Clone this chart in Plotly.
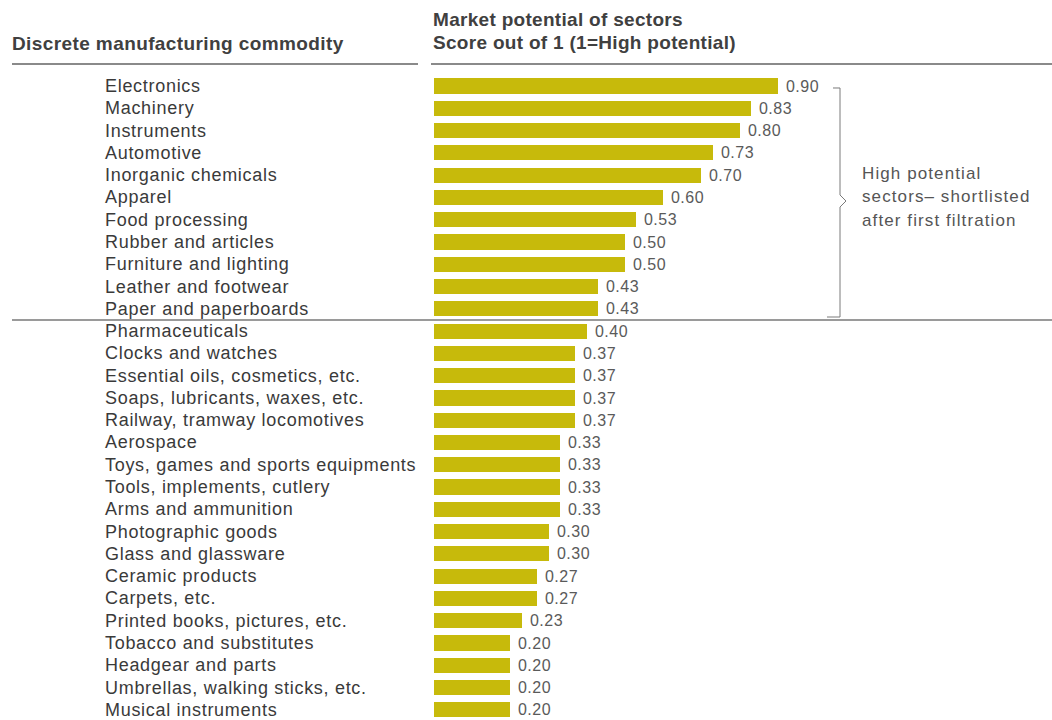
import plotly.graph_objects as go

# Sector scores (market potential, 1 = high)
sectors = [
    "Electronics", "Machinery", "Instruments", "Automotive", "Inorganic chemicals",
    "Apparel", "Food processing", "Rubber and articles", "Furniture and lighting",
    "Leather and footwear", "Paper and paperboards", "Pharmaceuticals",
    "Clocks and watches", "Essential oils, cosmetics, etc.", "Soaps, lubricants, waxes, etc.",
    "Railway, tramway locomotives", "Aerospace", "Toys, games and sports equipments",
    "Tools, implements, cutlery", "Arms and ammunition", "Photographic goods",
    "Glass and glassware", "Ceramic products", "Carpets, etc.",
    "Printed books, pictures, etc.", "Tobacco and substitutes", "Headgear and parts",
    "Umbrellas, walking sticks, etc.", "Musical instruments",
]
scores = [
    0.90, 0.83, 0.80, 0.73, 0.70, 0.60, 0.53, 0.50, 0.50, 0.43, 0.43, 0.40,
    0.37, 0.37, 0.37, 0.37, 0.33, 0.33, 0.33, 0.33, 0.30, 0.30, 0.27, 0.27,
    0.23, 0.20, 0.20, 0.20, 0.20,
]
n_shortlisted = 11

col_header = "Discrete manufacturing commodity"
val_header = ["Market potential of sectors", "Score out of 1 (1=High potential)"]
note_lines = ["High potential", "sectors\u2013 shortlisted", "after first filtration"]

W, H = 1052, 720
FONT = "Liberation Sans, Arial, sans-serif"
BAR = "#c7ba0b"


def px(x):
    return x / W


def py(y):
    return 1 - y / H


def spaced(s, ls=0.6):
    return f'<span style="letter-spacing:{ls}px">{s}</span>'


row0, row_h = 86, 22.28
x0, unit = 434, 382.0

fig = go.Figure(go.Bar(
    y=sectors,
    x=scores,
    orientation="h",
    marker=dict(color=BAR, line=dict(width=0)),
    width=0.68,
    text=[spaced(f" {v:.2f}", 0.5) for v in scores],
    textposition="outside",
    constraintext="none",
    textfont=dict(family=FONT, size=16, color="#5a5a5a"),
    cliponaxis=False,
    hoverinfo="skip",
))

annotations = []
for i, name in enumerate(sectors):
    annotations.append(dict(
        x=px(103), y=name, xref="paper", yref="y", text=spaced(name, 0.7),
        showarrow=False, xanchor="left", yanchor="middle",
        font=dict(family=FONT, size=18, color="#3a3a3a"),
    ))

annotations.append(dict(
    x=px(10), y=py(43), xref="paper", yref="paper", text=spaced(f"<b>{col_header}</b>", 0.4),
    showarrow=False, xanchor="left", yanchor="middle",
    font=dict(family=FONT, size=19, color="#404040"),
))
for k, line in enumerate(val_header):
    annotations.append(dict(
        x=px(431), y=py(19 + 23 * k), xref="paper", yref="paper",
        text=spaced(f"<b>{line}</b>", 0.3),
        showarrow=False, xanchor="left", yanchor="middle",
        font=dict(family=FONT, size=19, color="#404040"),
    ))
for k, line in enumerate(note_lines):
    annotations.append(dict(
        x=px(860), y=py(173 + 23.5 * k), xref="paper", yref="paper", text=spaced(line, 1.1),
        showarrow=False, xanchor="left", yanchor="middle",
        font=dict(family=FONT, size=17, color="#555555"),
    ))

sep_y = row0 + row_h * (n_shortlisted - 0.5)
shapes = [
    dict(type="line", xref="paper", yref="paper", x0=px(12), x1=px(418), y0=py(64), y1=py(64),
         line=dict(color="#8a8a8a", width=2)),
    dict(type="line", xref="paper", yref="paper", x0=px(431), x1=1, y0=py(64), y1=py(64),
         line=dict(color="#8a8a8a", width=2)),
    dict(type="line", xref="paper", yref="paper", x0=px(12), x1=1, y0=py(sep_y), y1=py(sep_y),
         line=dict(color="#9a9a9a", width=2)),
]

# bracket around the shortlisted sectors
bx, btop, bbot, bmid = 840, 88, 317, 201
pts = [(833, btop), (bx, btop), (bx, bmid - 6), (bx + 6, bmid), (bx, bmid + 6), (bx, bbot), (827, bbot)]
path = "M " + " L ".join(f"{px(a):.5f},{py(b):.5f}" for a, b in pts)
shapes.append(dict(type="path", xref="paper", yref="paper", path=path,
                   line=dict(color="#7a7a7a", width=1)))

fig.update_layout(
    width=W, height=H,
    margin=dict(l=0, r=0, t=0, b=0),
    paper_bgcolor="white", plot_bgcolor="white",
    showlegend=False,
    xaxis=dict(range=[-x0 / unit, (W - x0) / unit], visible=False, fixedrange=True),
    yaxis=dict(
        categoryorder="array", categoryarray=sectors,
        range=[(H - row0) / row_h, -row0 / row_h],
        visible=False, fixedrange=True,
    ),
    annotations=annotations,
    shapes=shapes,
    bargap=0,
)

fig.write_html("out.html", config={"displayModeBar": False})
